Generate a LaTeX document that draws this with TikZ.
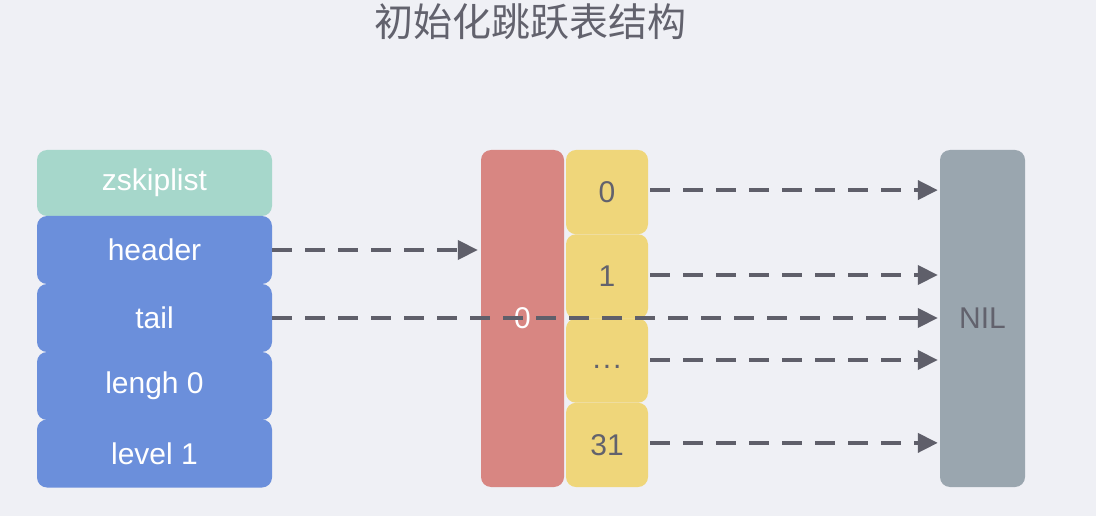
\documentclass[tikz,border=0pt]{standalone}
\usepackage{fontspec}
\setmainfont{Liberation Sans}
\newfontfamily\cjk{Noto Sans CJK SC}
\usetikzlibrary{arrows.meta}
\definecolor{bgc}{HTML}{EFF0F5}
\definecolor{teal}{HTML}{A6D7CB}
\definecolor{bluec}{HTML}{6B8FDB}
\definecolor{redc}{HTML}{D88682}
\definecolor{yel}{HTML}{EFD67A}
\definecolor{nilc}{HTML}{9AA6AF}
\definecolor{txt}{HTML}{62626D}
\definecolor{arr}{HTML}{5F5F6A}
\tikzset{
  box/.style={rounded corners=10pt, inner sep=0pt, font=\fontsize{30}{34}\selectfont},
  field/.style={box, fill=bluec, text=white, minimum width=235pt, minimum height=68pt},
  levelbox/.style={box, fill=yel, text=txt, minimum width=82pt, minimum height=84.25pt},
  ptr/.style={dash pattern=on 20pt off 13pt, line width=4pt, draw=arr,
    -{Triangle[length=20pt,width=19pt,fill=arr]}}
}
\begin{document}
\begin{tikzpicture}[x=1pt,y=-1pt]
\fill[bgc] (0,0) rectangle (1096,516);
\useasboundingbox (0,0) rectangle (1096,516);
\node[text=txt, font=\cjk\fontsize{39}{42}\selectfont] (title) at (530,22) {初始化跳跃表结构};
% zskiplist struct
\node[box, fill=teal, text=white, minimum width=235pt, minimum height=66pt] (zsl) at (154.5,183) {zskiplist};
\node[field] (header) at (154.5,250) {header};
\node[field] (tail) at (154.5,318) {tail};
\node[field] (len) at (154.5,386) {lengh 0};
\node[field] (lvl) at (154.5,453.5) {level 1};
% header node
\node[box, fill=redc, text=white, minimum width=83pt, minimum height=337pt] (hdr) at (522.5,318.5) {0};
\node[levelbox] (l0) at (607,192.1) {0};
\node[levelbox] (l1) at (607,276.4) {1};
\node[levelbox] (ld) at (607,360.6) {\vphantom{1}\raisebox{2pt}{.\kern2pt.\kern2pt.}};
\node[levelbox] (l31) at (607,444.9) {31};
% NIL
\node[box, fill=nilc, text=txt, minimum width=85pt, minimum height=337pt] (nil) at (982.5,318.5) {NIL};
% pointers
\draw[ptr, shorten >=3pt] (header.east) -- (header.east -| hdr.west);
\draw[ptr, shorten >=2pt] (tail.east) -- (tail.east -| nil.west);
\coordinate (p0) at ([xshift=2pt,yshift=2pt]l0.east);
\coordinate (p1) at ([xshift=2pt,yshift=1.4pt]l1.east);
\coordinate (pd) at ([xshift=2pt,yshift=0.6pt]ld.east);
\coordinate (p31) at ([xshift=2pt,yshift=2pt]l31.east);
\draw[ptr, shorten >=2pt] (p0) -- (p0 -| nil.west);
\draw[ptr, shorten >=2pt] (p1) -- (p1 -| nil.west);
\draw[ptr, shorten >=2pt] (pd) -- (pd -| nil.west);
\draw[ptr, shorten >=2pt] (p31) -- (p31 -| nil.west);
\end{tikzpicture}
\end{document}
